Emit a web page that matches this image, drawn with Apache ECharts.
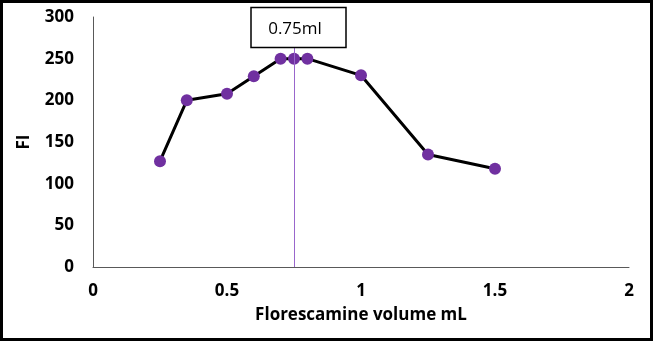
<!DOCTYPE html>
<html><head><meta charset="utf-8">
<script src="https://cdn.jsdelivr.net/npm/echarts@6/dist/echarts.min.js"></script>
<style>html,body{margin:0;padding:0;background:#fff}#c{width:653px;height:342px}</style>
</head><body><div id="c"></div>
<script>
const volumes = [0.25, 0.35, 0.5, 0.6, 0.7, 0.75, 0.8, 1.0, 1.25, 1.5];
const fiValues = [127, 200, 208, 229, 250, 250, 250, 230, 135, 118];
const optimumVolume = 0.75;
const optimumLabel = '0.75ml';
const xTitle = 'Florescamine volume mL';
const yTitle = 'FI';

const font = '"Open Sans", sans-serif';
const chart = echarts.init(document.getElementById('c'));
chart.setOption({
  animation: false,
  grid: {left: 93, right: 24, top: 17, bottom: 75, containLabel: false},
  xAxis: {
    type: 'value', min: 0, max: 2, interval: 0.5,
    name: xTitle, nameLocation: 'middle', nameGap: 40,
    nameTextStyle: {fontFamily: font, fontWeight: 700, fontSize: 17, color: '#000'},
    axisLine: {show: true, lineStyle: {color: '#595959', width: 1}},
    axisTick: {show: false},
    splitLine: {show: false},
    axisLabel: {fontFamily: font, fontWeight: 700, fontSize: 17, color: '#000', margin: 16}
  },
  yAxis: {
    type: 'value', min: 0, max: 300, interval: 50,
    name: yTitle, nameLocation: 'middle', nameGap: 60, nameRotate: 90,
    nameTextStyle: {fontFamily: font, fontWeight: 700, fontSize: 17, color: '#000'},
    axisLine: {show: true, lineStyle: {color: '#595959', width: 1}},
    axisTick: {show: false},
    splitLine: {show: false},
    axisLabel: {fontFamily: font, fontWeight: 700, fontSize: 17, color: '#000', margin: 19}
  },
  series: [{
    type: 'line',
    data: volumes.map((v, i) => [v, fiValues[i]]),
    lineStyle: {color: '#000', width: 3},
    symbol: 'circle', symbolSize: 12,
    itemStyle: {color: '#7030A0'},
    z: 3,
    markLine: {
      silent: true, symbol: 'none',
      lineStyle: {color: '#9966CC', width: 1, type: 'solid'},
      label: {show: false},
      data: [[{coord: [optimumVolume, 0]}, {coord: [optimumVolume, 263]}]]
    }
  }],
  graphic: [
    {type: 'rect', shape: {x: 1.5, y: 1.5, width: 650, height: 338}, style: {fill: 'none', stroke: '#000', lineWidth: 3}, z: 10},
    {type: 'rect', shape: {x: 251, y: 7.5, width: 95, height: 40}, style: {fill: '#fff', stroke: '#000', lineWidth: 1.5}, z: 10},
    {type: 'text', style: {x: 295, y: 29, text: optimumLabel, font: '17px ' + font, fill: '#000', textAlign: 'center', textVerticalAlign: 'middle'}, z: 11}
  ]
});
</script></body></html>
